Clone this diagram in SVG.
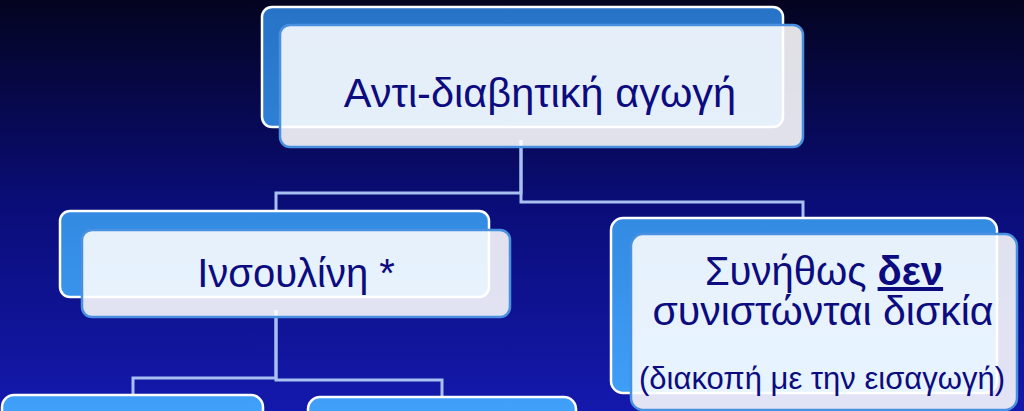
<svg xmlns="http://www.w3.org/2000/svg" width="1024" height="411" viewBox="0 0 1024 411">
  <defs>
    <linearGradient id="bg" x1="0" y1="0" x2="0" y2="411" gradientUnits="userSpaceOnUse">
      <stop offset="0" stop-color="#040420"/>
      <stop offset="0.5" stop-color="#0a0d78"/>
      <stop offset="1" stop-color="#1419ad"/>
    </linearGradient>
    <linearGradient id="back" x1="0" y1="0" x2="0" y2="411" gradientUnits="userSpaceOnUse">
      <stop offset="0" stop-color="#2672c6"/>
      <stop offset="1" stop-color="#40a0fa"/>
    </linearGradient>
    <style>
      .back { fill: url(#back); stroke: #ffffff; stroke-width: 2.5; }
      .front { fill: #ffffff; fill-opacity: 0.88; stroke: #4a90e0; stroke-width: 2.5; }
      .conn { fill: none; stroke: #a8c0f0; stroke-width: 3; }
      .t { font-family: "Liberation Sans", Arial, sans-serif; fill: #0c0c80; text-anchor: middle; }
    </style>
  </defs>
  <rect x="0" y="0" width="1024" height="411" fill="url(#bg)"/>

  <g id="connectors">
    <polyline class="conn" points="521,140 521,193 276,193 276,211"/>
    <polyline class="conn" points="521,140 521,202 803,202 803,218"/>
    <polyline class="conn" points="276,310 276,378 133,378 133,395"/>
    <polyline class="conn" points="276,310 276,380 442,380 442,397"/>
  </g>

  <g id="node-top">
    <rect class="back" x="262" y="7" width="521" height="120" rx="10"/>
    <rect class="front" x="280" y="25" width="523" height="122" rx="10"/>
    <text class="t" x="540" y="107" font-size="41.5">Αντι-διαβητική αγωγή</text>
  </g>

  <g id="node-insulin">
    <rect class="back" x="60" y="211" width="429" height="86" rx="10"/>
    <rect class="front" x="82" y="230" width="428" height="87" rx="10"/>
    <text class="t" x="296" y="287" font-size="40">Ινσουλίνη *</text>
  </g>

  <g id="node-oral">
    <rect class="back" x="611" y="218" width="386" height="175" rx="12"/>
    <rect class="front" x="631" y="234" width="386" height="176" rx="12"/>
    <text class="t" x="824" y="285" font-size="40">Συνήθως <tspan font-weight="bold" text-decoration="underline">δεν</tspan></text>
    <text class="t" x="823" y="325" font-size="41">συνιστώνται δισκία</text>
    <text class="t" x="822" y="389" font-size="31">(διακοπή με την εισαγωγή)</text>
  </g>

  <g id="node-bottom-left">
    <rect class="back" x="2" y="395" width="261" height="60" rx="12"/>
  </g>

  <g id="node-bottom-right">
    <rect class="back" x="308" y="397" width="268" height="60" rx="12"/>
  </g>
</svg>
